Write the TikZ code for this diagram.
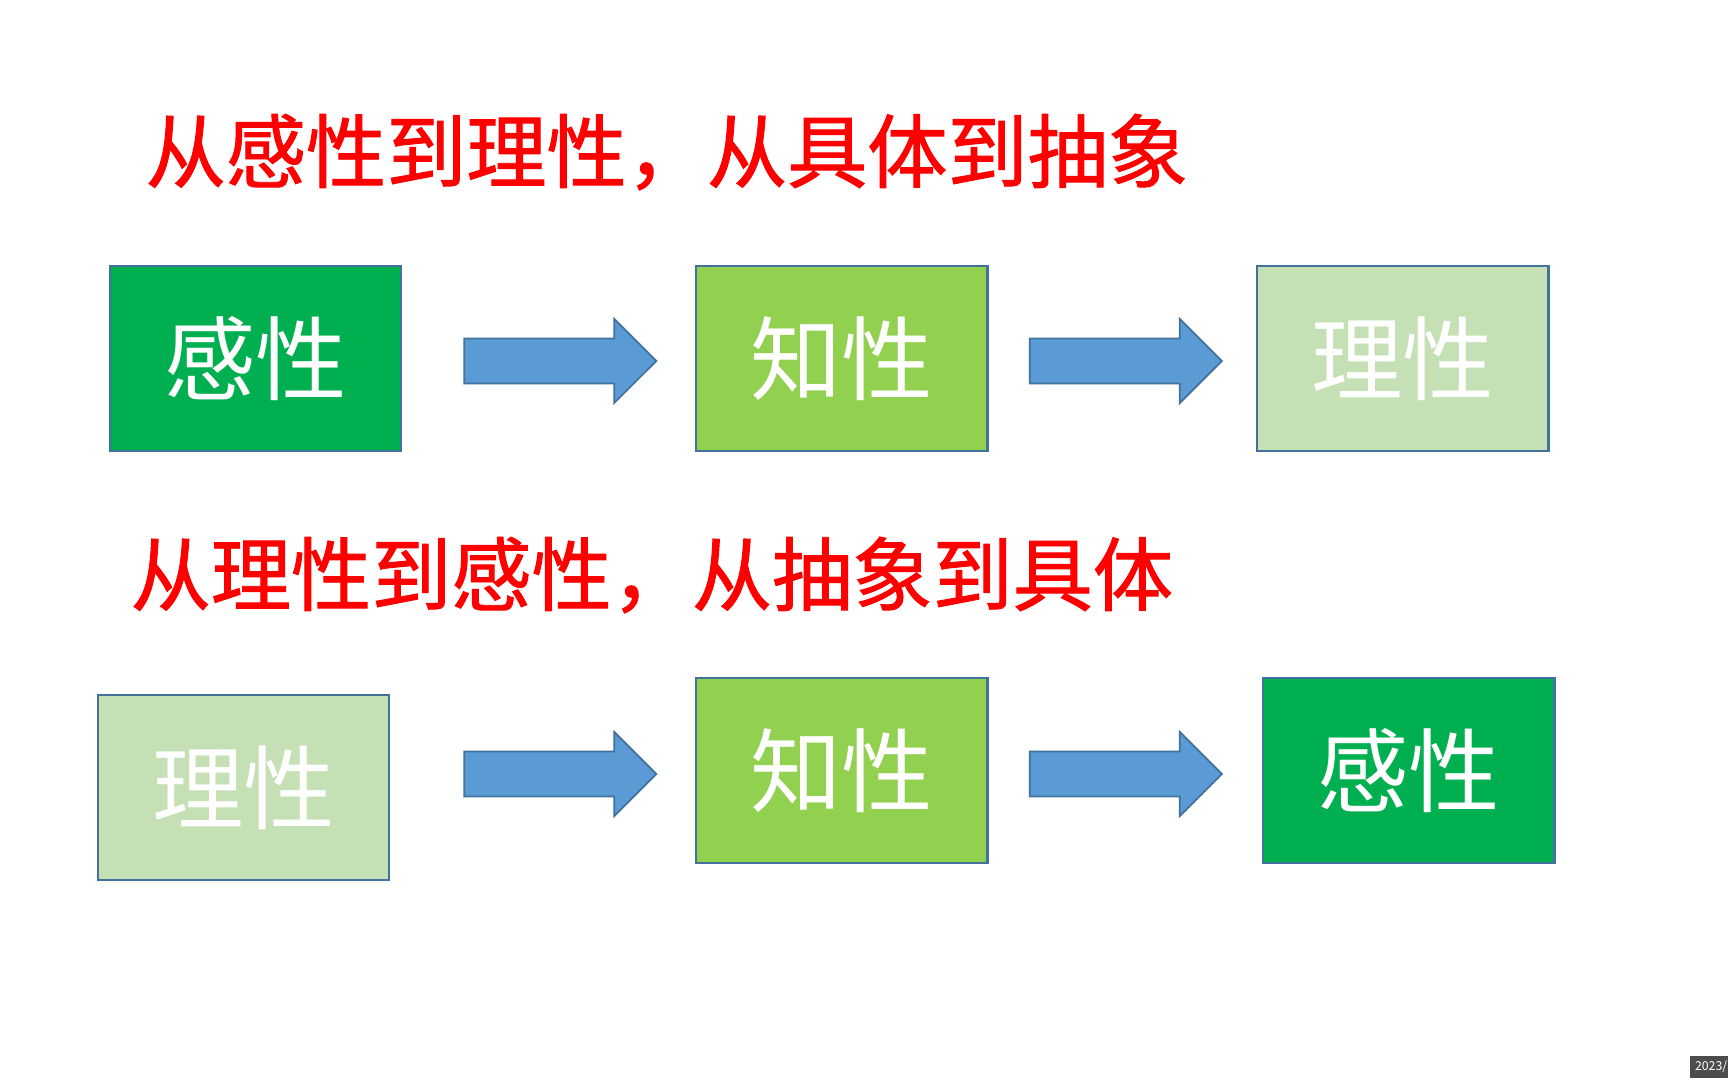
\documentclass[tikz,border=0pt]{standalone}
\usepackage{fontspec}
\setmainfont{Noto Sans CJK SC}
\newfontfamily\headfont[FakeBold=1.2]{Noto Sans CJK SC}
\usetikzlibrary{shapes.arrows}
\definecolor{darkgrn}{HTML}{00B050}
\definecolor{midgrn}{HTML}{92D050}
\definecolor{palegrn}{HTML}{C5E0B4}
\definecolor{edgeblue}{HTML}{41719C}
\definecolor{arrowblue}{HTML}{5B9BD5}
\tikzset{
  box/.style={draw=edgeblue,line width=0.8pt,minimum width=2.91cm,minimum height=1.85cm,inner sep=0pt,text=white,font=\fontsize{26}{26}\selectfont},
  blockarrow/.style={single arrow,draw=edgeblue,fill=arrowblue,line width=0.5pt,minimum height=1.92cm,inner sep=0.215cm,single arrow head extend=0.195cm,single arrow head indent=0pt},
  heading/.style={anchor=west,inner sep=0pt,text=red,font=\headfont\fontsize{22.8}{23}\selectfont}
}
\begin{document}
\begin{tikzpicture}[x=0.01cm,y=-0.01cm,line join=miter]
\useasboundingbox[fill=white] (0,0) rectangle (1728,1080);
% upward: senses to reason
\node[heading] (head1) at (145,152) {从感性到理性，从具体到抽象};
\node[box,fill=darkgrn] (ta) at (255.5,358.5) {感性};
\node[box,fill=midgrn] (tb) at (841.5,358.5) {知性};
\node[box,fill=palegrn] (tc) at (1402.5,358.5) {理性};
\node[blockarrow] (tab) at (549,361) {};
\node[blockarrow] (tbc) at (1114.5,361) {};
% downward: reason to senses
\node[heading] (head2) at (130,575) {从理性到感性，从抽象到具体};
\node[box,fill=palegrn] (ba) at (243.5,787.5) {理性};
\node[box,fill=midgrn] (bb) at (841.5,770.5) {知性};
\node[box,fill=darkgrn] (bc) at (1408.5,770.5) {感性};
\node[blockarrow] (bab) at (549,774) {};
\node[blockarrow] (bbc) at (1114.5,774) {};
\node[anchor=north west,fill=black!70,text=white,inner sep=1.5pt,font=\fontsize{3.5}{4}\selectfont] (stamp) at (1689,1055) {2023/};
\end{tikzpicture}
\end{document}
